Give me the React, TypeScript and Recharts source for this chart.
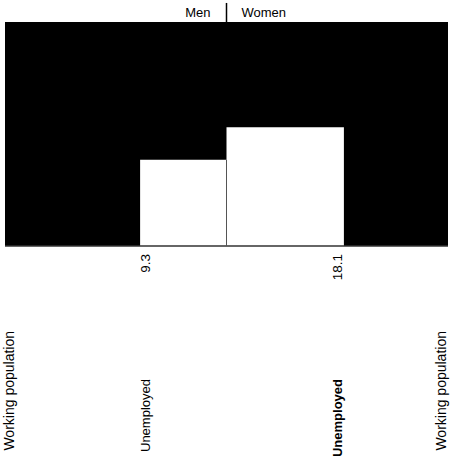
import React from 'react';
import { ComposedChart, Area, XAxis, YAxis, ReferenceLine } from 'recharts';

// halves of the working population, and the unemployed rate in each
const groups = ['Men', 'Women'];
const unemployedRates = [9.3, 18.1];

// x runs 0..1 for men and 1..2 for women; y is the share of the block height
const segmentX = [0, 0.61, 1, 1.53, 2];
const workingPopulation = [1, 1, 1, 1, 1];
const unemployedShare = [0, 0.385, 0.53, 0, 0];

// bottom labels
const labelX = [0.02, 0.632, 1.5, 1.968];
const labelNames = ['Working population', 'Unemployed', 'Unemployed', 'Working population'];
const labelValues = ['', String(unemployedRates[0]), String(unemployedRates[1]), ''];

const data = segmentX.map((x, i) => ({
  x,
  working: workingPopulation[i],
  unemployed: unemployedShare[i],
}));

const FONT = '"Liberation Sans", Arial, Helvetica, sans-serif';

const BottomTick = (props: any) => {
  const { x, y, payload } = props;
  const i = labelX.indexOf(payload.value);
  if (i < 0) return null;
  const valueTop = y + 8;
  const nameTop = i === 0 || i === 3 ? y + 85 : y + 133;
  return (
    <g>
      {labelValues[i] && (
        <text
          x={x}
          y={valueTop}
          dy="0.35em"
          textAnchor="end"
          transform={`rotate(-90 ${x} ${valueTop})`}
          fontSize={13.5}
          fill="#000"
        >
          {labelValues[i]}
        </text>
      )}
      <text
        x={x}
        y={nameTop}
        dy="0.35em"
        textAnchor="end"
        transform={`rotate(-90 ${x} ${nameTop})`}
        fontSize={i === 0 || i === 3 ? 14 : 13}
        fontWeight={i === 2 ? 'bold' : 'normal'}
        fill="#000"
      >
        {labelNames[i]}
      </text>
    </g>
  );
};

const HeaderLabel = (props: any) => {
  const { viewBox } = props;
  const x = viewBox.x;
  return (
    <g>
      <text x={x - 16} y={17} textAnchor="end" fontSize={13} fill="#000">
        {groups[0]}
      </text>
      <text x={x + 15} y={17} textAnchor="start" fontSize={13} fill="#000">
        {groups[1]}
      </text>
    </g>
  );
};

export default function App() {
  return (
    <div style={{ position: 'absolute', left: 0, top: 0, width: 453, height: 456, background: '#fff', fontFamily: FONT }}>
      <ComposedChart width={453} height={456} data={data} margin={{ top: 22, right: 5, bottom: 0, left: 5 }}>
        <XAxis
          dataKey="x"
          type="number"
          domain={[0, 2]}
          ticks={labelX}
          interval={0}
          axisLine={false}
          tickLine={false}
          tickSize={0}
          tickMargin={0}
          height={210}
          tick={<BottomTick />}
        />
        <YAxis type="number" domain={[0, 1]} hide />
        <Area
          dataKey="working"
          type="linear"
          fill="#000"
          fillOpacity={1}
          stroke="none"
          isAnimationActive={false}
        />
        <Area
          dataKey="unemployed"
          type="stepAfter"
          fill="#fff"
          fillOpacity={1}
          stroke="none"
          isAnimationActive={false}
        />
        <ReferenceLine y={0} stroke="#333" strokeWidth={1.5} />
        <ReferenceLine
          segment={[{ x: 1, y: 0 }, { x: 1, y: unemployedShare[1] }]}
          stroke="#555"
          strokeWidth={1}
        />
        <ReferenceLine
          segment={[{ x: 1, y: 0.99 }, { x: 1, y: 1.085 }]}
          ifOverflow="visible"
          stroke="#000"
          strokeWidth={1.5}
          label={<HeaderLabel />}
        />
      </ComposedChart>
    </div>
  );
}
